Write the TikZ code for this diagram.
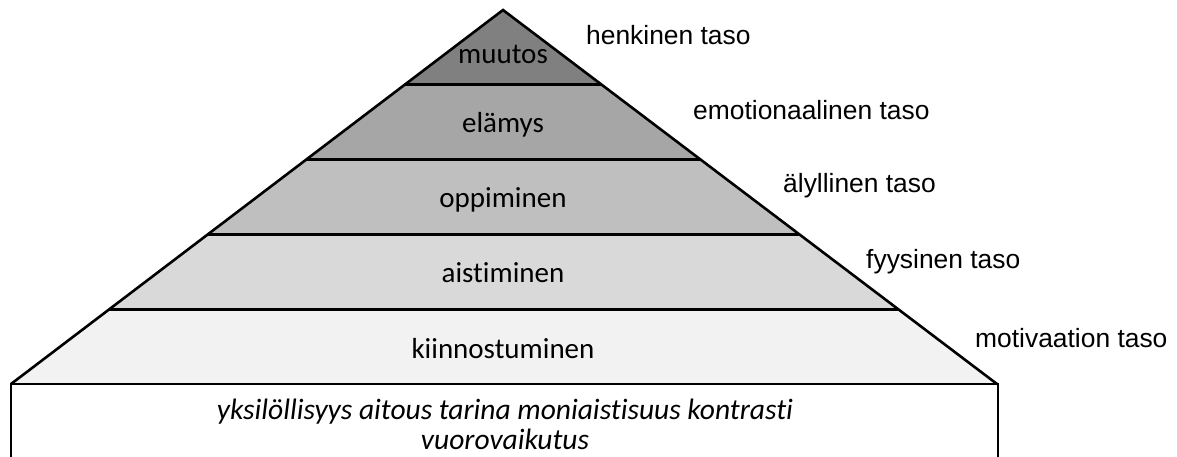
\documentclass[tikz,border=0pt]{standalone}
\usepackage{fontspec}
\setmainfont[Ligatures=NoCommon]{Carlito}
\newfontfamily\arialf{Liberation Sans}
\usetikzlibrary{calc}
\begin{document}
\begin{tikzpicture}[x=1pt,y=1pt,
  band/.style={font=\fontsize{29}{32}\selectfont, inner sep=0pt},
  levellabel/.style={font=\arialf\fontsize{26.4}{30}\selectfont, anchor=west, inner sep=0pt},
  edge/.style={line width=2.6pt, line join=miter}]
\useasboundingbox (0,0) rectangle (1177,456);
\coordinate (A) at (503,446);
\coordinate (L) at (11,72);
\coordinate (R) at (997,72);
\foreach \i/\t in {1/0.2,2/0.4,3/0.6,4/0.8}{
  \coordinate (l\i) at ($(A)!\t!(L)$);
  \coordinate (r\i) at ($(A)!\t!(R)$);
}
% fills
\fill[black!50] (A) -- (l1) -- (r1) -- cycle;
\fill[black!35] (l1) -- (l2) -- (r2) -- (r1) -- cycle;
\fill[black!25] (l2) -- (l3) -- (r3) -- (r2) -- cycle;
\fill[black!15] (l3) -- (l4) -- (r4) -- (r3) -- cycle;
\fill[black!5] (l4) -- (L) -- (R) -- (r4) -- cycle;
% outlines
\draw[edge] (L) -- (A) -- (R);
\foreach \i in {1,2,3,4}{\draw[edge] (l\i) -- (r\i);}
\draw[edge] (11,-10) -- (L) -- (R) -- (998,72) -- (998,-10);
% band labels
\node[band] (muutos) at (503,402) {muutos};
\node[band] (elamys) at (503,331) {elämys};
\node[band] (oppiminen) at (503,256) {oppiminen};
\node[band] (aistiminen) at (503,183) {aistiminen};
\node[band] (kiinnostuminen) at (503,107) {kiinnostuminen};
% level labels
\node[levellabel] (henk) at (586,421) {henkinen taso};
\node[levellabel] (emo) at (693,346) {emotionaalinen taso};
\node[levellabel] (aly) at (783,270) {älyllinen taso};
\node[levellabel] (fyy) at (866,194) {fyysinen taso};
\node[levellabel] (mot) at (975,118) {motivaation taso};
% bottom box text
\node[font=\itshape\fontsize{29.5}{30}\selectfont, align=center, inner sep=0pt] (base) at (505,32)
  {yksilöllisyys aitous tarina moniaistisuus kontrasti\\vuorovaikutus};
\end{tikzpicture}
\end{document}
